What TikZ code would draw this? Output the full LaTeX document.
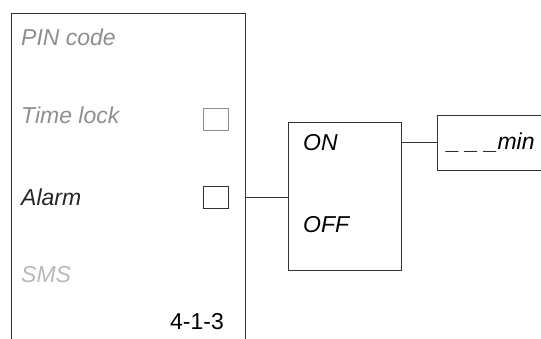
\documentclass[tikz,border=0pt]{standalone}
\usepackage{fontspec}
\setmainfont{Liberation Sans}
\usetikzlibrary{positioning}
\definecolor{linea}{HTML}{333333}
\definecolor{inactivo}{HTML}{8E8E8E}
\definecolor{apagado}{HTML}{B8B8B8}
\tikzset{
  caja/.style={draw=linea, line width=0.9pt, inner sep=0pt},
  casilla/.style={draw=linea, line width=0.8pt, minimum width=25pt, minimum height=22pt, inner sep=0pt},
  etiqueta/.style={anchor=west, inner sep=0pt, font=\fontsize{23}{26}\selectfont\itshape},
  conector/.style={draw=linea, line width=0.9pt}
}
\begin{document}
\begin{tikzpicture}[x=1pt, y=-1pt]
  \useasboundingbox (0,0) rectangle (541,338);
  % Menu
  \draw[linea, line width=0.9pt] (11,345)--(11,13)--(245,13)--(245,345);
  \coordinate (menuR) at (245,197);
  \node[etiqueta, text=inactivo] (pin) at (21,37) {PIN code};
  \node[etiqueta, text=inactivo] (lock) at (21,115) {Time lock};
  \node[etiqueta, text=black!85] (alarm) at (21,197) {Alarm};
  \node[etiqueta, text=apagado] (sms) at (21,275) {SMS};
  \node[casilla, draw=inactivo] (lockbox) at (215.5,119.5) {};
  \node[casilla] (alarmbox) at (215.5,197) {};
  \node[anchor=east, inner sep=0pt, font=\fontsize{23}{26}\selectfont] (code) at (224,322) {4-1-3};

  % ON / OFF
  \node[caja, minimum width=113pt, minimum height=148pt] (onoff) at (344.5,196) {};
  \node[etiqueta] (on) at (303,143) {ON};
  \node[etiqueta] (off) at (303,225) {OFF};

  % Minutos
  \coordinate (minbox) at (437,142.5);
  \draw[linea, line width=0.9pt] (560,115)--(437,115)--(437,170)--(560,170);
  \node[etiqueta] (min) at (447,143) {\_\hspace{6pt}\_\hspace{6pt}\_min};

  % Conectores
  \draw[conector] (menuR) -- (onoff.west |- menuR);
  \draw[conector] (onoff.east |- minbox) -- (minbox);
\end{tikzpicture}
\end{document}
